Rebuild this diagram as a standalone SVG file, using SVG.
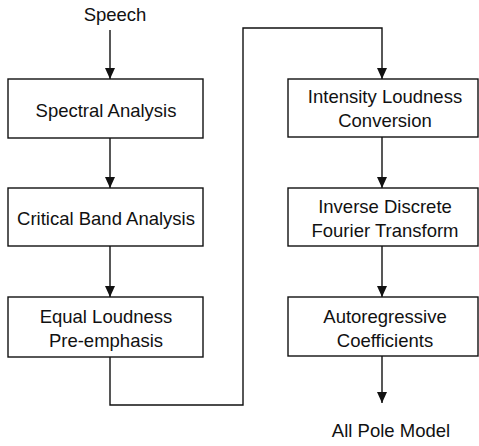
<svg xmlns="http://www.w3.org/2000/svg" width="479" height="446" viewBox="0 0 479 446">
<style>
.box{fill:#fff;stroke:#111;stroke-width:1.4}
.ln{fill:none;stroke:#111;stroke-width:1.4}
text{font-family:"Liberation Sans",Arial,sans-serif;font-size:18.5px;fill:#111;text-anchor:middle}
</style>
<defs>
<marker id="ah" markerUnits="userSpaceOnUse" markerWidth="12" markerHeight="12" viewBox="0 0 12 12" refX="11" refY="6" orient="auto">
<path d="M0,1 L11,6 L0,11 Z" fill="#111"/>
</marker>
</defs>
<g id="connectors">
<line class="ln" x1="110" y1="30" x2="110" y2="79" marker-end="url(#ah)"/>
<line class="ln" x1="110" y1="138" x2="110" y2="188" marker-end="url(#ah)"/>
<line class="ln" x1="110" y1="246" x2="110" y2="297" marker-end="url(#ah)"/>
<path class="ln" d="M110,357 V405 H243 V28 H382 V79" marker-end="url(#ah)"/>
<line class="ln" x1="382" y1="137" x2="382" y2="188" marker-end="url(#ah)"/>
<line class="ln" x1="382" y1="246" x2="382" y2="297" marker-end="url(#ah)"/>
<line class="ln" x1="382" y1="356" x2="382" y2="403" marker-end="url(#ah)"/>
</g>
<g id="speech"><text x="115" y="21">Speech</text></g>
<g id="spectral">
<rect class="box" x="8" y="79" width="195" height="59"/>
<text x="106" y="117">Spectral Analysis</text>
</g>
<g id="critical">
<rect class="box" x="8" y="188" width="195" height="58"/>
<text x="106" y="225">Critical Band Analysis</text>
</g>
<g id="equal">
<rect class="box" x="8" y="297" width="195" height="60"/>
<text x="106" y="323">Equal Loudness</text>
<text x="106" y="347">Pre-emphasis</text>
</g>
<g id="intensity">
<rect class="box" x="288" y="79" width="190" height="58"/>
<text x="385" y="103">Intensity Loudness</text>
<text x="385" y="127">Conversion</text>
</g>
<g id="idft">
<rect class="box" x="288" y="188" width="190" height="58"/>
<text x="385" y="213">Inverse Discrete</text>
<text x="385" y="237">Fourier Transform</text>
</g>
<g id="autoreg">
<rect class="box" x="288" y="297" width="190" height="59"/>
<text x="385" y="323">Autoregressive</text>
<text x="385" y="347">Coefficients</text>
</g>
<g id="allpole"><text x="391" y="437">All Pole Model</text></g>
</svg>
